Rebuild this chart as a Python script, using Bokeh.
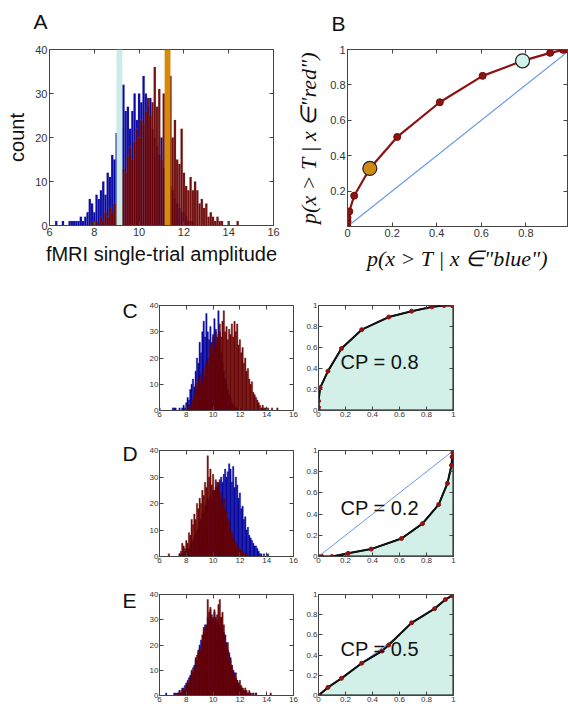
import numpy as np
from bokeh.plotting import figure
from bokeh.models import Range1d, FixedTicker, LinearAxis, CustomJSTickFormatter, Label
from bokeh.layouts import column, row
from bokeh.embed import file_html
from bokeh.resources import INLINE
from bokeh.core.properties import value

# ---------------- data ----------------
BIN_W = 0.1
# Panel A histograms (bin centres start, counts)
A_BLUE_START = 6.3
A_BLUE = [1, 0, 0, 1, 0, 0, 1, 1, 1, 1, 1, 2, 1, 2, 3, 6, 5, 3, 7, 6, 8, 10, 7, 12, 11, 16, 15, 21,
          20, 22, 32, 26, 27, 22, 26, 30, 24, 30, 28, 34, 30, 27, 29, 22, 20, 18, 16, 20, 13, 12,
          10, 9, 8, 6, 5, 4, 3, 3, 2, 1, 1, 1]
A_RED_START = 7.9
A_RED = [1, 0, 1, 0, 2, 1, 3, 2, 4, 3, 5, 5, 4, 6, 13, 12, 16, 18, 15, 19, 22, 20, 24, 23, 26, 29,
         25, 28, 36, 27, 31, 15, 30, 24, 28, 34, 20, 24, 15, 14, 22, 12, 9, 8, 11, 8, 10, 8, 5, 6,
         4, 5, 2, 3, 2, 1, 2, 1, 1, 0, 0, 1, 0, 0, 0, 1]
A_THRESHOLDS = [9.12, 11.27]
A_THRESH_COLORS = ["#c9ece6", "#d68a0c"]

# Panel B ROC
B_FPR = [0, 0, 0, 0.008, 0.03, 0.10, 0.223, 0.414, 0.606, 0.785, 0.909, 0.967, 0.99]
B_TPR = [0, 0.03, 0.05, 0.085, 0.174, 0.328, 0.506, 0.702, 0.851, 0.936, 0.981, 0.998, 1.0]
B_MARK_FPR = [0.10, 0.785]
B_MARK_TPR = [0.328, 0.936]
B_MARK_COLORS = ["#d08a12", "#d2f1ea"]

# Panel C
C_BLUE_START = 6.0
C_BLUE = [1, 0, 0, 0, 0, 0, 0, 0, 0, 0, 1, 1, 1, 0, 0, 1, 0, 1, 2, 1, 3, 5, 4, 8, 10, 12, 9, 15,
          20, 18, 26, 22, 30, 34, 28, 37, 30, 27, 32, 26, 29, 35, 31, 28, 38, 30, 22, 18, 15, 12,
          10, 8, 6, 5, 3, 2, 2, 1, 1, 0, 1]
C_RED_START = 8.0
C_RED = [1, 0, 2, 1, 3, 4, 6, 10, 8, 12, 9, 14, 11, 16, 13, 18, 20, 17, 25, 22, 28, 24, 30, 26,
         29, 33, 28, 34, 38, 30, 32, 27, 31, 29, 33, 28, 34, 30, 33, 25, 27, 22, 24, 18, 20, 15,
         16, 12, 10, 11, 7, 6, 5, 4, 3, 2, 1, 2, 1, 1, 0, 1, 0, 0, 1, 0, 0, 0, 1]
C_FPR = [0, 0, 0, 0.012, 0.07, 0.17, 0.32, 0.52, 0.69, 0.84, 0.93, 0.99, 1.0]
C_TPR = [0, 0.03, 0.09, 0.216, 0.375, 0.59, 0.77, 0.89, 0.946, 0.987, 1.0, 1.0, 1.0]
C_CP = "CP = 0.8"

# Panel D
D_RED_START = 6.7
D_RED = [1, 0, 0, 0, 0, 0, 0, 0, 1, 2, 5, 4, 3, 6, 5, 9, 8, 14, 12, 16, 14, 20, 18, 22, 20, 25,
         23, 28, 26, 38, 30, 33, 27, 31, 25, 29, 26, 28, 22, 24, 20, 22, 18, 17, 14, 13, 10, 9, 7,
         6, 5, 4, 3, 3, 2, 2, 1, 1, 1]
D_BLUE_START = 7.5
D_BLUE = [1, 0, 1, 1, 2, 2, 3, 3, 4, 5, 6, 7, 9, 10, 11, 13, 14, 16, 17, 19, 20, 22, 21, 23, 22,
          25, 24, 26, 28, 27, 29, 30, 28, 31, 33, 30, 32, 35, 33, 28, 34, 26, 30, 27, 22, 24, 18,
          19, 14, 15, 10, 11, 8, 7, 6, 5, 4, 4, 3, 2, 1, 1, 0, 1, 0, 0, 1]
D_FPR = [0, 0.025, 0.1, 0.22, 0.39, 0.615, 0.77, 0.89, 0.955, 0.985, 0.99, 0.995, 1.0]
D_TPR = [0, 0, 0, 0.03, 0.07, 0.17, 0.31, 0.49, 0.69, 0.86, 0.94, 0.98, 1.0]
D_CP = "CP = 0.2"

# Panel E
E_BLUE_START = 6.5
E_BLUE = [1, 0, 0, 0, 0, 0, 1, 0, 1, 1, 2, 1, 3, 2, 4, 5, 4, 7, 8, 10, 9, 12, 15, 14, 18, 20,
          22, 21, 25, 28, 27, 31, 30, 34, 32, 30, 33, 31, 29, 30, 28, 31, 27, 25, 24, 21, 18, 17,
          15, 12, 10, 9, 7, 6, 5, 4, 3, 3, 2, 2, 1, 1, 0, 1, 0, 1, 0, 1]
E_RED_START = 7.2
E_RED = [1, 0, 1, 2, 1, 2, 3, 2, 4, 6, 5, 7, 9, 11, 10, 14, 16, 17, 19, 18, 24, 27, 26, 28, 38,
         33, 35, 29, 31, 34, 30, 32, 36, 38, 31, 33, 28, 24, 20, 21, 16, 14, 12, 10, 8, 9, 6, 5,
         6, 4, 3, 2, 3, 2, 1, 2, 1, 0, 1, 0, 1, 0, 0, 0, 0, 0, 0, 0, 0, 0, 0, 1]
E_FPR = [0, 0.07, 0.17, 0.32, 0.47, 0.52, 0.69, 0.86, 0.94, 0.99, 1.0]
E_TPR = [0, 0.08, 0.17, 0.32, 0.44, 0.50, 0.72, 0.86, 0.95, 0.99, 1.0]
E_CP = "CP = 0.5"

HIST_XTICKS = [6, 8, 10, 12, 14, 16]
HIST_YTICKS = [0, 10, 20, 30, 40]
ROC_TICKS = [0, 0.2, 0.4, 0.6, 0.8, 1]
TOP_LETTERS = ["A", "B"]
ROW_LETTERS = ["C", "D", "E"]

# ---------------- style ----------------
FONT = "Liberation Sans"
SERIF = "Liberation Serif"
BLUE_FACE, BLUE_EDGE = "#0a0aa0", "#6a6ad0"
RED_FACE, RED_EDGE = "#680202", "#b06a6a"
AX_COL = "#444444"
TXT_COL = "#333333"
FILL_COL = "#d2efe8"

NUM_FMT = "return String(Number(tick.toFixed(2)));"


def centers(start, n):
    return [round(start + i * BIN_W, 3) for i in range(n)]


def make_fig(fw, fh, bl, br, bt, bb, xr, yr, xticks, yticks, fs, xlab_ticks=None, ylab_ticks=None):
    p = figure(frame_width=fw, frame_height=fh, min_border_left=bl, min_border_right=br,
               min_border_top=bt, min_border_bottom=bb, x_range=Range1d(*xr), y_range=Range1d(*yr),
               output_backend="svg", toolbar_location=None, tools="")
    p.xgrid.visible = False
    p.ygrid.visible = False
    p.outline_line_color = AX_COL
    p.outline_line_width = 1
    p.background_fill_color = "white"
    p.border_fill_color = "white"
    xa, ya = p.below[0], p.left[0]
    for ax, tk, lt in ((xa, xticks, xlab_ticks), (ya, yticks, ylab_ticks)):
        ax.ticker = FixedTicker(ticks=lt if lt is not None else tk)
        ax.formatter = CustomJSTickFormatter(code=NUM_FMT)
        ax.major_tick_in = 4
        ax.major_tick_out = 0
        ax.minor_tick_line_color = None
        ax.axis_line_color = AX_COL
        ax.major_tick_line_color = AX_COL
        ax.major_label_text_font = FONT
        ax.major_label_text_font_size = f"{fs}px"
        ax.major_label_text_color = TXT_COL
        ax.major_label_standoff = 2 if fs > 9 else 1
    for loc, tk in (("above", xticks), ("right", yticks)):
        ax = LinearAxis(ticker=FixedTicker(ticks=tk), formatter=CustomJSTickFormatter(code="return '';"),
                        major_tick_in=4, major_tick_out=0, minor_tick_line_color=None,
                        axis_line_color=None, major_label_standoff=0, major_tick_line_color=AX_COL)
        p.add_layout(ax, loc)
    return p, xa, ya


def draw_hist(p, bstart, blue, rstart, red, big):
    if big:
        bl, rl, lw, la = BLUE_EDGE, RED_EDGE, 0.4, 0.45
    else:
        bl, rl, lw, la = BLUE_FACE, RED_FACE, 0.4, 1.0
    p.vbar(x=centers(bstart, len(blue)), top=blue, width=BIN_W, bottom=0,
           fill_color=BLUE_FACE, line_color=bl, line_width=lw, line_alpha=la)
    p.vbar(x=centers(rstart, len(red)), top=red, width=BIN_W, bottom=0,
           fill_color=RED_FACE, fill_alpha=0.95, line_color=rl, line_width=lw, line_alpha=la)


def letter_fig(w, h, xs, ys, texts):
    f = figure(frame_width=w, frame_height=h, min_border=0, x_range=Range1d(0, 1), y_range=Range1d(0, 1),
               x_axis_type=None, y_axis_type=None, output_backend="svg", toolbar_location=None, tools="")
    f.grid.visible = False
    f.outline_line_color = None
    f.background_fill_color = "white"
    f.border_fill_color = "white"
    f.text(x=xs, y=ys, text=texts, text_font=value(FONT), text_font_size="21px",
           text_color="#111111", text_baseline="top", text_align="left")
    return f


# ---------------- letters strip (A, B) ----------------
W = 568
STRIP_H = 34
strip = letter_fig(W, STRIP_H, [33 / W, 331 / W], [1 - 9 / STRIP_H, 1 - 11 / STRIP_H], TOP_LETTERS)

# ---------------- panel A ----------------
pA, axA, ayA = make_fig(224, 176, 49, 17, 48 - STRIP_H, 58, (6, 16), (0, 40), HIST_XTICKS, HIST_YTICKS, 11)
draw_hist(pA, A_BLUE_START, A_BLUE, A_RED_START, A_RED, True)
pA.vbar(x=A_THRESHOLDS, top=40, bottom=0, width=0.26, fill_color=A_THRESH_COLORS, line_color=None)
axA.axis_label = "fMRI single-trial amplitude"
ayA.axis_label = "count"
for ax in (axA, ayA):
    ax.axis_label_text_font = FONT
    ax.axis_label_text_font_size = "20px"
    ax.axis_label_text_font_style = "normal"
    ax.axis_label_text_color = "#111111"
    ax.axis_label_standoff = 4

# ---------------- panel B ----------------
pB, axB, ayB = make_fig(220, 177, 57, 1, 49 - STRIP_H, 56, (0, 220 / 223), (0, 1), [0, 0.2, 0.4, 0.6, 0.8],
                        ROC_TICKS, 11, xlab_ticks=[0, 0.2, 0.4, 0.6, 0.8], ylab_ticks=[0.2, 0.4, 0.6, 0.8, 1])
pB.line([0, 1], [0, 1], line_color="#6a98e6", line_width=1.2)
pB.line(B_FPR, B_TPR, line_color="#8e1212", line_width=2.2)
pB.scatter(B_FPR, B_TPR, size=7, fill_color="#8e1212", line_color="#6a0a0a")
pB.scatter(B_MARK_FPR, B_MARK_TPR, size=14, fill_color=B_MARK_COLORS, line_color="#222222", line_width=1.2)
axB.axis_label = 'p(x > T | x ∈"blue")'
ayB.axis_label = 'p(x > T | x ∈"red")'
for ax in (axB, ayB):
    ax.axis_label_text_font = SERIF
    ax.axis_label_text_font_size = "22px"
    ax.axis_label_text_font_style = "italic"
    ax.axis_label_text_color = "#111111"
    ax.axis_label_standoff = 6


# ---------------- small rows ----------------
def small_row(bt, fh, bb, bstart, blue, rstart, red, fpr, tpr, cp):
    h, _, _ = make_fig(134, fh, 12, 8, bt, bb, (6, 16), (0, 40), HIST_XTICKS, HIST_YTICKS, 8)
    draw_hist(h, bstart, blue, rstart, red, False)
    r, _, _ = make_fig(135, fh, 17, 116, bt, bb, (0, 1), (0, 1), ROC_TICKS, ROC_TICKS, 8)
    r.line([0, 1], [0, 1], line_color="#6a98e6", line_width=1)
    r.patch(list(fpr) + [1, 0], list(tpr) + [0, 0], fill_color=FILL_COL, line_color="#111111", line_width=2)
    r.line(fpr, tpr, line_color="#111111", line_width=1.6)
    r.scatter(fpr, tpr, size=4, fill_color="#8e1212", line_color="#8e1212")
    r.add_layout(Label(x=0.163, y=0.46, text=cp, text_font=FONT, text_font_size="20px",
                       text_color="#111111", text_baseline="middle", text_align="left"))
    return row(h, r)


rowC = small_row(23, 105, 20, C_BLUE_START, C_BLUE, C_RED_START, C_RED, C_FPR, C_TPR, C_CP)
rowD = small_row(20, 106, 20, D_BLUE_START, D_BLUE, D_RED_START, D_RED, D_FPR, D_TPR, D_CP)
rowE = small_row(18, 101, 12, E_BLUE_START, E_BLUE, E_RED_START, E_RED, E_FPR, E_TPR, E_CP)

LOW_TOP = 282
LOW_H = 707 - LOW_TOP
letters_tall = letter_fig(146, LOW_H, [122 / 146] * 3,
                          [1 - (298 - LOW_TOP) / LOW_H, 1 - (441 - LOW_TOP) / LOW_H, 1 - (588 - LOW_TOP) / LOW_H],
                          ROW_LETTERS)

layout = column(strip, row(pA, pB), row(letters_tall, column(rowC, rowD, rowE)))
open("out.html", "w").write(file_html(layout, INLINE))
